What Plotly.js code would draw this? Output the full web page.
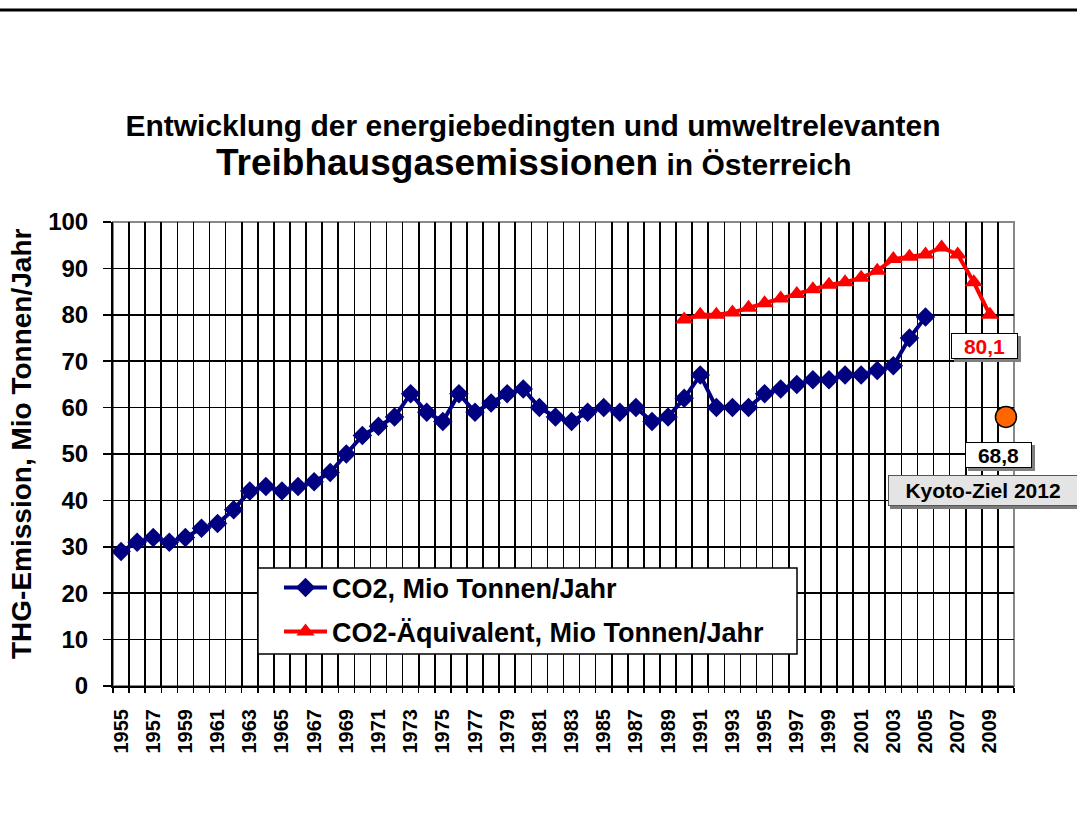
<!DOCTYPE html>
<html>
<head>
<meta charset="utf-8">
<script src="https://cdn.plot.ly/plotly-3.0.1.min.js"></script>
<style>html,body{margin:0;padding:0;background:#fff;}#chart{width:1077px;height:827px;}</style>
</head>
<body>
<div id="chart"></div>
<script>
// ---- data ----
const co2Years = [1955,1956,1957,1958,1959,1960,1961,1962,1963,1964,1965,1966,1967,1968,1969,1970,1971,1972,1973,1974,1975,1976,1977,1978,1979,1980,1981,1982,1983,1984,1985,1986,1987,1988,1989,1990,1991,1992,1993,1994,1995,1996,1997,1998,1999,2000,2001,2002,2003,2004,2005];
const co2Values = [29,31,32,31,32,34,35,38,42,43,42,43,44,46,50,54,56,58,63,59,57,63,59,61,63,64,60,58,57,59,60,59,60,57,58,62,67,60,60,60,63,64,65,66,66,67,67,68,69,75,79.5];
const equivYears = [1990,1991,1992,1993,1994,1995,1996,1997,1998,1999,2000,2001,2002,2003,2004,2005,2006,2007,2008,2009];
const equivValues = [79,80,80,80.5,81.5,82.5,83.5,84.5,85.5,86.5,87,88,89.5,92,92.5,93,94.5,93,87,80];
const kyotoYears = [2010];
const kyotoValues = [58];
const tickYears = [1955,1957,1959,1961,1963,1965,1967,1969,1971,1973,1975,1977,1979,1981,1983,1985,1987,1989,1991,1993,1995,1997,1999,2001,2003,2005,2007,2009];
const tickLabels = ['1955','1957','1959','1961','1963','1965','1967','1969','1971','1973','1975','1977','1979','1981','1983','1985','1987','1989','1991','1993','1995','1997','1999','2001','2003','2005','2007','2009'];
const seriesNames = ['CO2, Mio Tonnen/Jahr','CO2-Äquivalent, Mio Tonnen/Jahr'];
const titleLine1 = 'Entwicklung der energiebedingten und umweltrelevanten';
const titleMain = 'Treibhausgasemissionen';
const titleTail = ' in Österreich';
const yTitle = 'THG-Emission, Mio Tonnen/Jahr';
const labelEquiv = '80,1';
const labelTarget = '68,8';
const labelKyoto = 'Kyoto-Ziel 2012';

// ---- layout helpers (pixel -> paper) ----
const L = 113, R = 1014, T = 222, B = 686;
const px = x => (x - L) / (R - L);
const py = y => (B - y) / (B - T);
const FONT = 'Liberation Sans, Arial, sans-serif';

const traces = [
  {x: co2Years, y: co2Values, name: seriesNames[0], type: 'scatter', mode: 'lines+markers', legend: 'legend',
   line: {color: '#000080', width: 4}, marker: {symbol: 'diamond', size: 15, color: '#000080'}, cliponaxis: false},
  {x: equivYears, y: equivValues, name: seriesNames[1], type: 'scatter', mode: 'lines+markers', legend: 'legend2',
   line: {color: '#FF0000', width: 4}, marker: {symbol: 'triangle-up', size: 16, color: '#FF0000'}, cliponaxis: false},
  {x: kyotoYears, y: kyotoValues, name: labelKyoto, type: 'scatter', mode: 'markers', showlegend: false,
   marker: {symbol: 'circle', size: 21, color: '#FF6600', line: {color: '#000000', width: 1.5}}, cliponaxis: false}
];

const shapes = [
  {type: 'line', xref: 'paper', yref: 'paper', x0: px(0), x1: px(1077), y0: py(10), y1: py(10), line: {color: '#000', width: 3}},
  {type: 'rect', xref: 'paper', yref: 'paper', x0: 0, x1: 1, y0: 0, y1: 1, line: {color: '#888', width: 2}, layer: 'below'},
  // legend box
  {type: 'rect', xref: 'paper', yref: 'paper', x0: px(258), x1: px(797), y0: py(654), y1: py(568), fillcolor: '#fff', line: {color: '#000', width: 1.5}},
  // shadows of label boxes
  {type: 'rect', xref: 'paper', yref: 'paper', x0: px(954), x1: px(1021), y0: py(362), y1: py(336), fillcolor: '#808080', line: {width: 0}},
  {type: 'rect', xref: 'paper', yref: 'paper', x0: px(968), x1: px(1035), y0: py(471), y1: py(445), fillcolor: '#808080', line: {width: 0}},
  {type: 'rect', xref: 'paper', yref: 'paper', x0: px(890), x1: px(1080), y0: py(509), y1: py(477), fillcolor: '#7a7a7a', line: {width: 0}}
];

const boxAnn = (cx, cy, w, h, text, size, color, bg, border) => ({
  xref: 'paper', yref: 'paper', x: px(cx), y: py(cy), xanchor: 'center', yanchor: 'middle',
  text: text, showarrow: false, width: w, height: h, bgcolor: bg, bordercolor: border, borderwidth: 1, borderpad: 0,
  align: 'center', valign: 'middle',
  font: {family: FONT, size: size, color: color, weight: 'bold'}
});

const annotations = [
  boxAnn(984.5, 346, 65, 24, labelEquiv, 21, '#FF0000', '#fff', '#000'),
  boxAnn(998.5, 455, 65, 24, labelTarget, 21, '#000', '#fff', '#000'),
  boxAnn(983, 490.5, 188, 29, labelKyoto, 21, '#000', '#e4e4e4', '#555'),
  {xref: 'paper', yref: 'paper', x: px(534), y: py(163), xanchor: 'center', yanchor: 'middle', showarrow: false,
   text: '<span style="font-size:37px">' + titleMain + '</span>' + titleTail,
   font: {family: FONT, size: 30, color: '#000', weight: 'bold'}},
  {xref: 'paper', yref: 'paper', x: px(21), y: py(444), xanchor: 'center', yanchor: 'middle', showarrow: false,
   textangle: -90, text: yTitle, font: {family: FONT, size: 28, color: '#000', weight: 'bold'}}
];

const layout = {
  width: 1077, height: 827,
  paper_bgcolor: '#fff', plot_bgcolor: '#fff',
  margin: {l: L, r: 1077 - R, t: T, b: 827 - B, pad: 0},
  font: {family: FONT, color: '#000'},
  title: {
    text: titleLine1,
    font: {family: FONT, size: 30, weight: 'bold', color: '#000'},
    x: 533 / 1077, xanchor: 'center', xref: 'container',
    y: 1 - 125 / 827, yanchor: 'middle', yref: 'container'
  },
  xaxis: {
    type: 'linear', range: [1954.5, 2010.5], autorange: false,
    tickmode: 'array', tickvals: tickYears, ticktext: tickLabels, tickangle: -90,
    tickfont: {family: FONT, size: 20, weight: 'bold', color: '#000'},
    ticks: '', showgrid: false, zeroline: false,
    showline: true, linecolor: '#000', linewidth: 2,
    ticklabelstandoff: 13,
    minor: {tick0: 1954.5, dtick: 1, showgrid: true, gridcolor: '#000', gridwidth: 1.6,
            ticks: 'outside', ticklen: 5, tickcolor: '#000', tickwidth: 1.5}
  },
  yaxis: {
    range: [0, 100], autorange: false, dtick: 10, tick0: 0,
    showgrid: true, gridcolor: '#000', gridwidth: 1.6, zeroline: false,
    showline: true, linecolor: '#000', linewidth: 2,
    ticks: 'outside', ticklen: 8, tickcolor: '#000', tickwidth: 1.5,
    tickfont: {family: FONT, size: 24, weight: 'bold', color: '#000'},
    ticklabelstandoff: 10,
    title: {text: '', font: {family: FONT, size: 28, weight: 'bold', color: '#000'}}
  },
  showlegend: true,
  legend: {
    x: px(279), y: py(588), xanchor: 'left', yanchor: 'middle',
    bgcolor: 'rgba(0,0,0,0)', borderwidth: 0,
    font: {family: FONT, size: 27, weight: 'bold', color: '#000'}, itemwidth: 43
  },
  legend2: {
    x: px(279), y: py(632), xanchor: 'left', yanchor: 'middle',
    bgcolor: 'rgba(0,0,0,0)', borderwidth: 0,
    font: {family: FONT, size: 27, weight: 'bold', color: '#000'}, itemwidth: 43
  },
  shapes: shapes,
  annotations: annotations
};

Plotly.newPlot('chart', traces, layout, {displayModeBar: false, staticPlot: true});
</script>
</body>
</html>
